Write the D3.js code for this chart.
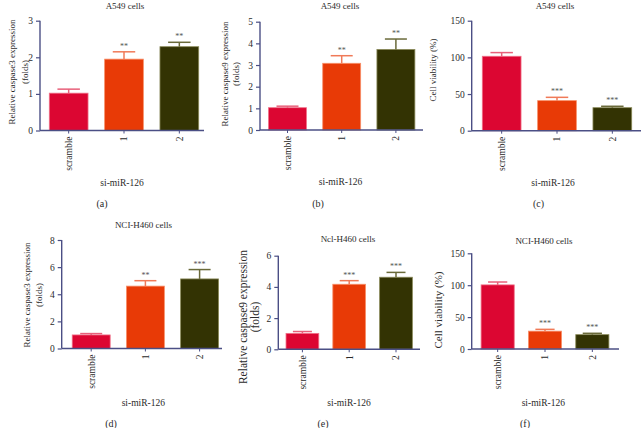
<!DOCTYPE html>
<html><head><meta charset="utf-8">
<script src="https://cdn.jsdelivr.net/npm/d3@7"></script>
<style>body{margin:0;background:#fff}svg{display:block}</style>
</head><body>
<svg id="c" width="641" height="428"></svg>
<script>
// ---- data ----
const categories = ["scramble", "1", "2"];
const xTitle = "si-miR-126";

const a_values = [1.02, 1.95, 2.29];
const a_errors = [0.11, 0.20, 0.12];
const a_stars  = ["", "**", "**"];
const a_ticks  = [0, 1, 2, 3];

const b_values = [1.03, 3.08, 3.72];
const b_errors = [0.07, 0.35, 0.48];
const b_stars  = ["", "**", "**"];
const b_ticks  = [0, 1, 2, 3, 4, 5];

const c_values = [101.5, 41, 31.4];
const c_errors = [5, 4.5, 1.9];
const c_stars  = ["", "***", "***"];
const c_ticks  = [0, 50, 100, 150];

const d_values = [1.0, 4.6, 5.13];
const d_errors = [0.1, 0.4, 0.69];
const d_stars  = ["", "**", "***"];
const d_ticks  = [0, 2, 4, 6, 8];

const e_values = [1.02, 4.17, 4.62];
const e_errors = [0.12, 0.23, 0.31];
const e_stars  = ["", "***", "***"];
const e_ticks  = [0, 2, 4, 6];

const f_values = [100.5, 28, 22.5];
const f_errors = [4.5, 2.8, 2.1];
const f_stars  = ["", "***", "***"];
const f_ticks  = [0, 50, 100, 150];

const fills   = ["#dc0632", "#e83a06", "#333303"];
const strokes = ["#f07088", "#f8906a", "#8a8a5a"];
const errCols = ["#e8607a", "#f07a58", "#6a6a3a"];
const axisCol = "#4b4f85";
const textCol = "#2a2a2a";
const FONT = "'Liberation Serif', 'Times New Roman', serif";

const panels = [
  {values:a_values, errors:a_errors, stars:a_stars, ticks:a_ticks, max:3,
   title:"A549 cells", ylab:["Relative caspase3 expression","(folds)"], letter:"(a)",
   x0:40, x1:204, band:[41,207], yTop:20.7, yBot:130.5,
   titleXY:[125,6], ylabX:[12,25], ylabY:72, ylabSize:9, xlabXY:[122,183], letterXY:[102,203]},
  {values:b_values, errors:b_errors, stars:b_stars, ticks:b_ticks, max:5,
   title:"A549 cells", ylab:["Relative caspase9 expression","(folds)"], letter:"(b)",
   x0:260, x1:423, band:[260.4,423], yTop:21.7, yBot:130,
   titleXY:[340,6], ylabX:[225,236], ylabY:74, ylabSize:9, xlabXY:[340.5,182], letterXY:[318,203]},
  {values:c_values, errors:c_errors, stars:c_stars, ticks:c_ticks, max:150,
   title:"A549 cells", ylab:["Cell viability (%)"], letter:"(c)",
   x0:471.7, x1:641, band:[474,640], yTop:20.7, yBot:130.7,
   titleXY:[555,6], ylabX:[433], ylabY:70, ylabSize:9, xlabXY:[553,183], letterXY:[538.5,203]},
  {values:d_values, errors:d_errors, stars:d_stars, ticks:d_ticks, max:8,
   title:"NCI-H460 cells", ylab:["Relative caspase3 expression","(folds)"], letter:"(d)",
   x0:61.7, x1:222, band:[64.1,226.7], yTop:240, yBot:348.5,
   titleXY:[143.5,225], ylabX:[27,38.5], ylabY:295, ylabSize:9, xlabXY:[143.3,402.7], letterXY:[111,423]},
  {values:e_values, errors:e_errors, stars:e_stars, ticks:e_ticks, max:6,
   title:"Ncl-H460 cells", ylab:["Relative caspase9 expression","(folds)"], letter:"(e)",
   x0:278.3, x1:420, band:[279,419.4], yTop:255.7, yBot:349.3,
   titleXY:[348,239], ylabX:[243,255], ylabY:317, ylabSize:11.5, xlabXY:[349,402.7], letterXY:[323,423]},
  {values:f_values, errors:f_errors, stars:f_stars, ticks:f_ticks, max:150,
   title:"NCI-H460 cells", ylab:["Cell viability (%)"], letter:"(f)",
   x0:471.7, x1:619, band:[474,616], yTop:253.3, yBot:349,
   titleXY:[544,240.7], ylabX:[438], ylabY:310, ylabSize:11, xlabXY:[543.3,403], letterXY:[525,423]}
];

const svg = d3.select("#c");

panels.forEach(p => {
  const g = svg.append("g");
  const x = d3.scaleBand().domain(categories).range(p.band).paddingInner(0.3).paddingOuter(0.15);
  const y = d3.scaleLinear().domain([0, p.max]).range([p.yBot, p.yTop]);
  const data = categories.map((c, i) => ({c, v:p.values[i], e:p.errors[i], s:p.stars[i], i}));

  // bars
  g.selectAll("rect.bar").data(data).join("rect")
    .attr("x", d => x(d.c)).attr("width", x.bandwidth())
    .attr("y", d => y(d.v)).attr("height", d => y(0) - y(d.v))
    .attr("fill", d => fills[d.i]).attr("stroke", d => strokes[d.i]).attr("stroke-width", 0.8);

  // error bars
  const capW = x.bandwidth() * 0.58;
  g.selectAll("line.err").data(data).join("line")
    .attr("x1", d => x(d.c) + x.bandwidth()/2).attr("x2", d => x(d.c) + x.bandwidth()/2)
    .attr("y1", d => y(d.v)).attr("y2", d => y(d.v + d.e))
    .attr("stroke", d => errCols[d.i]).attr("stroke-width", 1.5);
  g.selectAll("line.cap").data(data).join("line")
    .attr("x1", d => x(d.c) + x.bandwidth()/2 - capW/2).attr("x2", d => x(d.c) + x.bandwidth()/2 + capW/2)
    .attr("y1", d => y(d.v + d.e)).attr("y2", d => y(d.v + d.e))
    .attr("stroke", d => errCols[d.i]).attr("stroke-width", 1.5);

  // stars
  g.selectAll("text.star").data(data).join("text")
    .attr("x", d => x(d.c) + x.bandwidth()/2).attr("y", d => y(d.v + d.e) - 3)
    .attr("text-anchor", "middle").attr("font-family", FONT).attr("font-size", 8)
    .attr("fill", "#555").text(d => d.s);

  // y axis
  const ya = g.append("g").attr("transform", `translate(${p.x0},0)`)
    .call(d3.axisLeft(y).tickValues(p.ticks).tickSize(4).tickPadding(3).tickFormat(d3.format("d")));
  ya.select(".domain").attr("stroke", axisCol).attr("stroke-width", 1.4)
    .attr("d", `M0,${p.yTop}V${p.yBot}`);
  ya.selectAll(".tick line").attr("stroke", axisCol).attr("stroke-width", 1.2);
  ya.selectAll(".tick text").attr("font-family", FONT).attr("font-size", 9.5).attr("fill", textCol);

  // x axis
  const xa = g.append("g").attr("transform", `translate(0,${p.yBot})`)
    .call(d3.axisBottom(x).tickSize(3).tickPadding(4));
  xa.select(".domain").attr("stroke", axisCol).attr("stroke-width", 1.4)
    .attr("d", `M${p.x0},0H${p.x1}`);
  xa.selectAll(".tick line").attr("stroke", axisCol).attr("stroke-width", 1);
  xa.selectAll(".tick text").attr("font-family", FONT).attr("font-size", 9.5).attr("fill", textCol)
    .attr("transform", "rotate(-90)").attr("text-anchor", "end")
    .attr("x", -6).attr("y", 0).attr("dy", "0.35em");

  // title
  g.append("text").attr("x", p.titleXY[0]).attr("y", p.titleXY[1]).attr("dy", "0.35em")
    .attr("text-anchor", "middle").attr("font-family", FONT).attr("font-size", 9).attr("fill", textCol)
    .text(p.title);

  // y label
  p.ylab.forEach((t, k) => {
    g.append("text").attr("transform", `translate(${p.ylabX[k]},${p.ylabY}) rotate(-90)`)
      .attr("dy", "0.35em").attr("text-anchor", "middle")
      .attr("font-family", FONT).attr("font-size", p.ylabSize).attr("fill", textCol).text(t);
  });

  // x title
  g.append("text").attr("x", p.xlabXY[0]).attr("y", p.xlabXY[1]).attr("dy", "0.35em")
    .attr("text-anchor", "middle").attr("font-family", FONT).attr("font-size", 9.5).attr("fill", textCol)
    .text(xTitle);

  // panel letter
  g.append("text").attr("x", p.letterXY[0]).attr("y", p.letterXY[1]).attr("dy", "0.35em")
    .attr("text-anchor", "middle").attr("font-family", FONT).attr("font-size", 10).attr("fill", textCol)
    .text(p.letter);
});
</script>
</body></html>
